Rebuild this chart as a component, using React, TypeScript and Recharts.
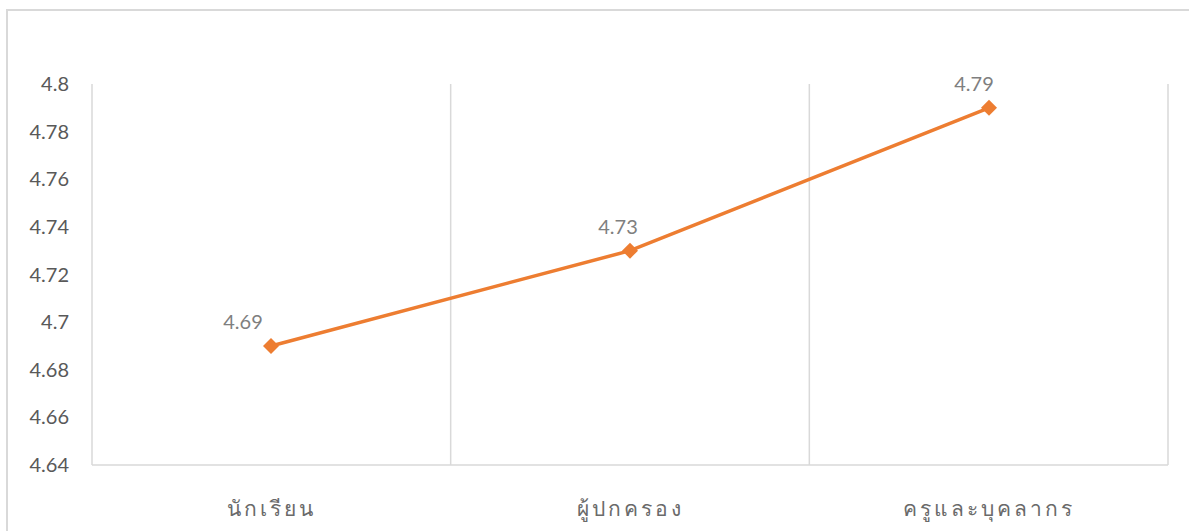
import { LineChart, Line, XAxis, YAxis, CartesianGrid, LabelList } from "recharts"

const groups = ["นักเรียน", "ผู้ปกครอง", "ครูและบุคลากร"]
const scores = [4.69, 4.73, 4.79]
const yTicks = [4.64, 4.66, 4.68, 4.7, 4.72, 4.74, 4.76, 4.78, 4.8]

// excel-ish nudges for the value labels (px, relative to point)
const labelDx = [-28, -12, -15]

const data = groups.map((g, i) => ({ group: g, score: scores[i] }))

const FONT = "Lato, 'Noto Sans', 'DejaVu Sans', sans-serif"

const Diamond = (props: any) => {
  const { cx, cy } = props
  if (cx == null || cy == null) return null
  const r = 8
  return (
    <polygon
      points={`${cx},${cy - r} ${cx + r},${cy} ${cx},${cy + r} ${cx - r},${cy}`}
      fill="#ED7D31"
    />
  )
}

const ValueLabel = (props: any) => {
  const { x, y, value, index } = props
  return (
    <text x={x + (labelDx[index] ?? 0)} y={y - 17} textAnchor="middle" fill="#7F7F7F" fontSize={20} fontFamily={FONT}>
      {value}
    </text>
  )
}

const CatTick = (props: any) => {
  const { x, y, payload } = props
  return (
    <text x={x} y={y + 43} textAnchor="middle" fill="#6A6A6A" fontSize={21} fontFamily={FONT} fontWeight={300} letterSpacing={3}>
      {payload.value}
    </text>
  )
}

export default function App() {
  return (
    <div style={{ position: "absolute", left: 0, top: 0, width: 1189, height: 531, background: "#fff" }}>
      <div
        style={{
          position: "absolute",
          left: 6,
          top: 9,
          right: 0,
          bottom: 0,
          borderLeft: "2px solid #D9D9D9",
          borderTop: "2px solid #D9D9D9",
        }}
      />
      <div style={{ position: "absolute", left: 0, top: 0 }}>
        <LineChart width={1189} height={531} data={data} margin={{ top: 84, right: 21, bottom: 0, left: 0 }}>
          <CartesianGrid
            horizontal={false}
            stroke="#D9D9D9"
            strokeWidth={1.5}
            verticalCoordinatesGenerator={({ offset }: any) =>
              [0, 1, 2, 3].map((i) => offset.left + (i * offset.width) / groups.length)
            }
          />
          <XAxis
            dataKey="group"
            height={66}
            padding={{ left: 179, right: 179 }}
            axisLine={{ stroke: "#D9D9D9", strokeWidth: 1.5 }}
            tickLine={false}
            tick={<CatTick />}
            interval={0}
          />
          <YAxis
            width={92}
            domain={[4.64, 4.8]}
            ticks={yTicks}
            allowDataOverflow
            axisLine={false}
            tickLine={false}
            tickSize={0}
            tickMargin={23}
            tickFormatter={(v: number) => String(parseFloat(v.toFixed(2)))}
            tick={{ fill: "#595959", fontSize: 20, fontFamily: FONT }}
          />
          <Line
            type="linear"
            dataKey="score"
            stroke="#ED7D31"
            strokeWidth={3.5}
            dot={<Diamond />}
            activeDot={false}
            isAnimationActive={false}
          >
            <LabelList dataKey="score" content={<ValueLabel />} />
          </Line>
        </LineChart>
      </div>
    </div>
  )
}
